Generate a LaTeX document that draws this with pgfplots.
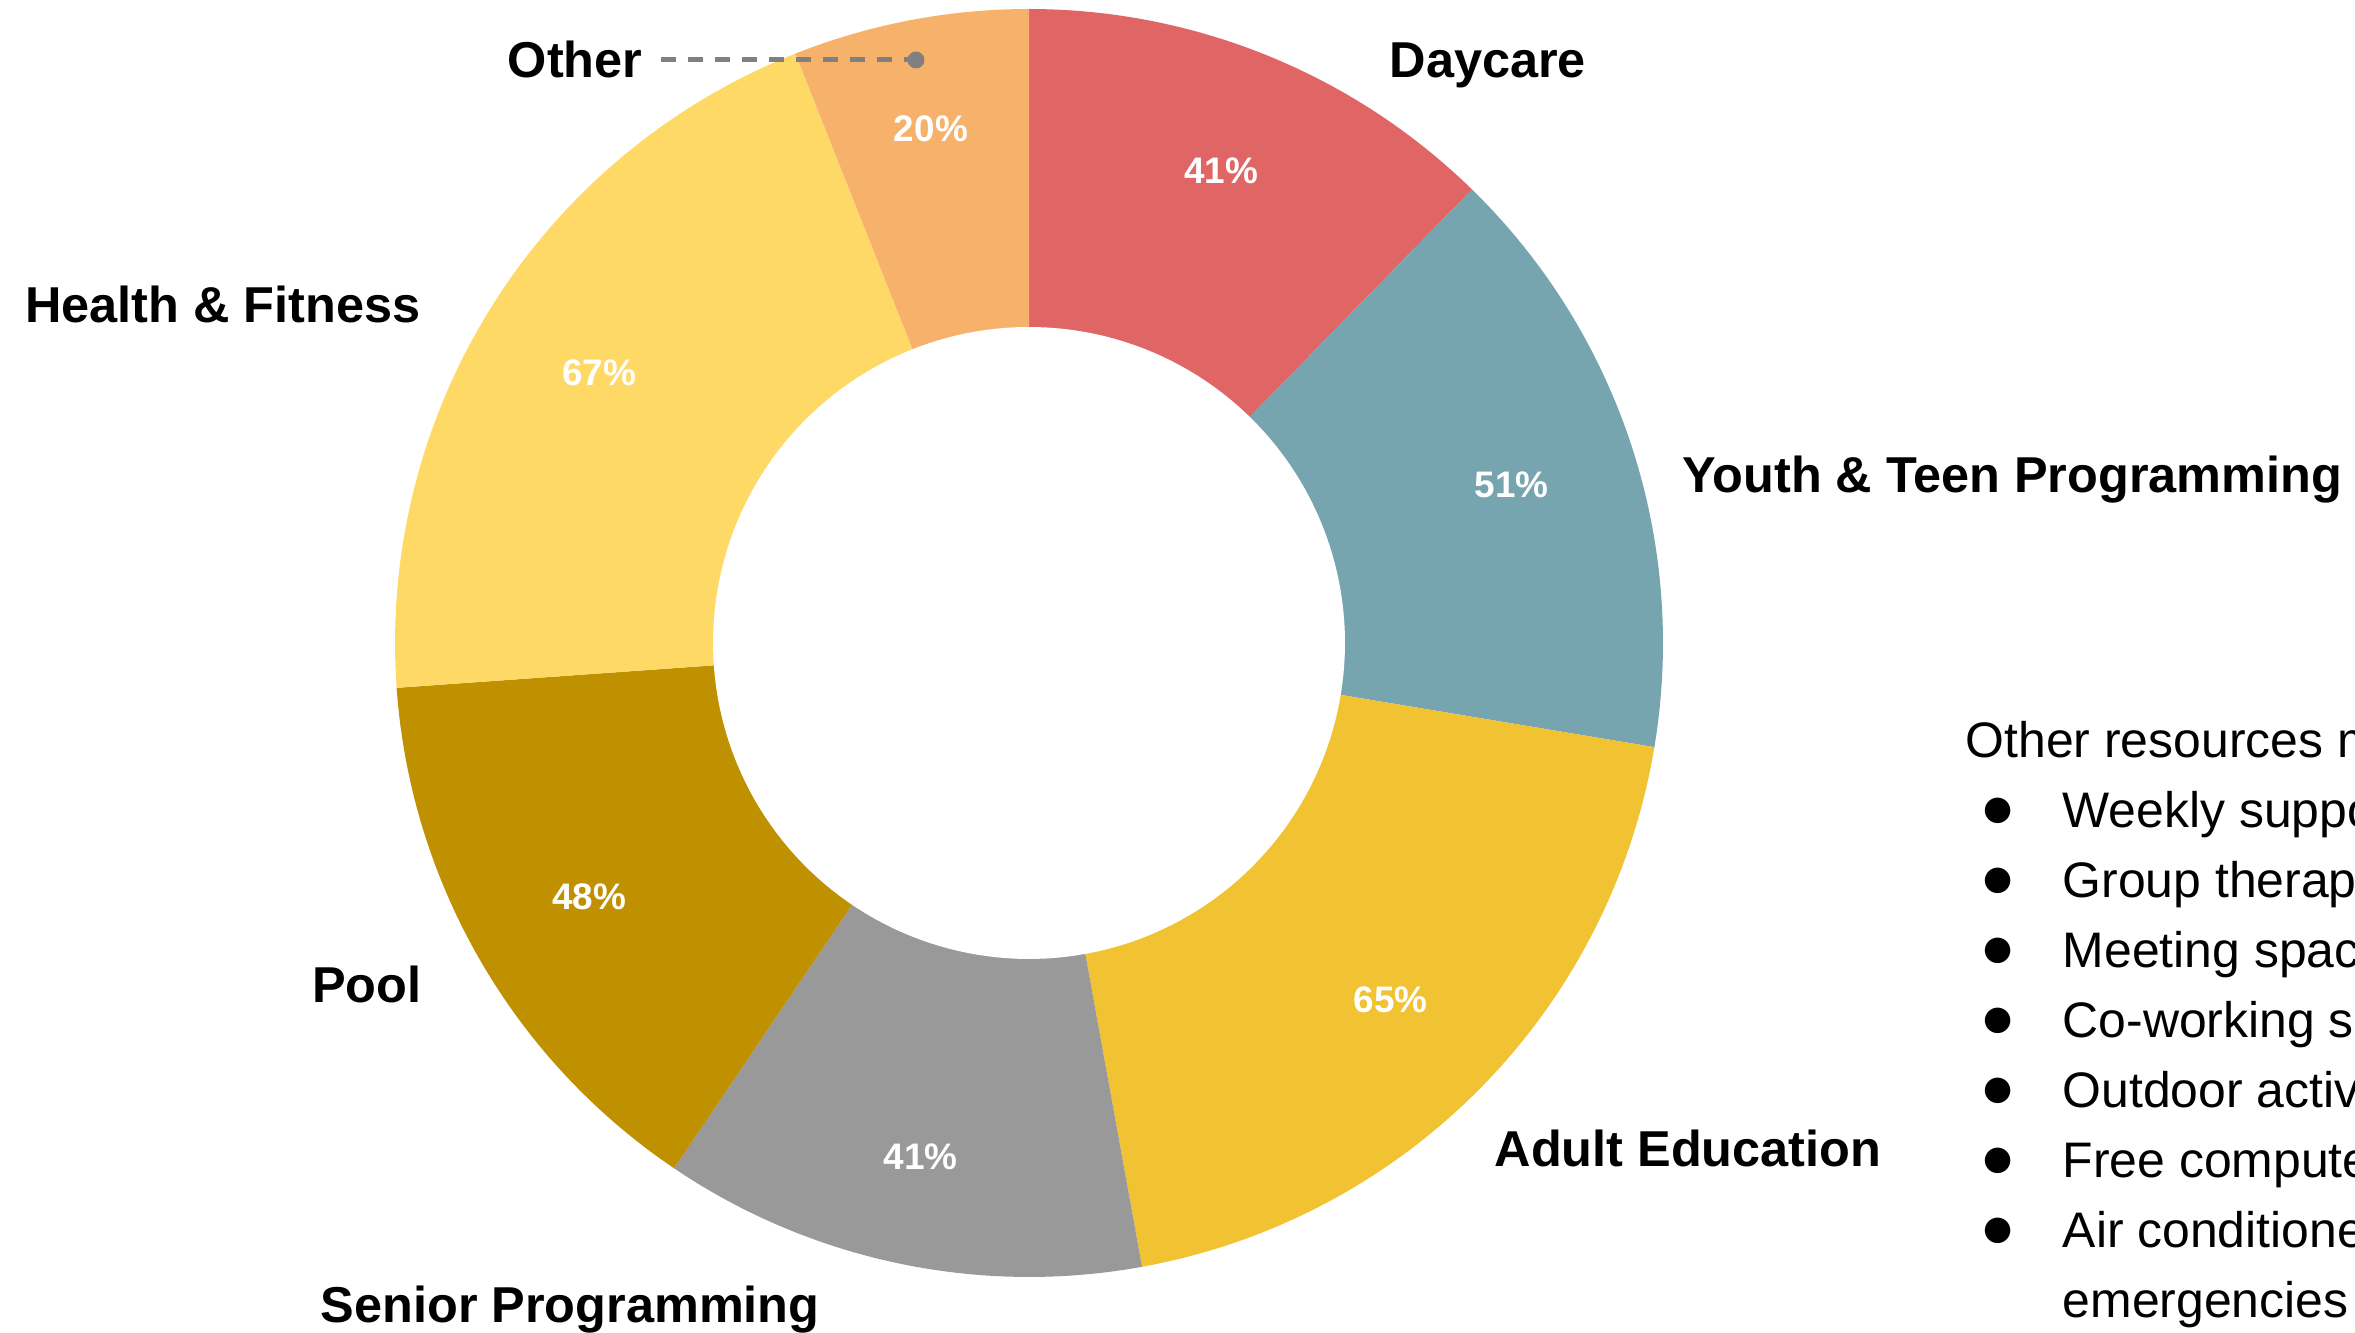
\documentclass[border=0pt]{standalone}
\usepackage{pgfplots}
\pgfplotsset{compat=1.18}
\usepackage{pgfplotstable}
\usepackage{fontspec}
\setmainfont{Liberation Sans}
\newfontfamily\lab{Liberation Sans}
\newfontfamily\sym{DejaVu Sans}
\newcommand\pctfont{\lab\bfseries\fontsize{10.5}{12}\selectfont}
\newcommand\catfont{\lab\bfseries\fontsize{14.35}{17}\selectfont}
\newcommand\txtfont{\lab\fontsize{14.2}{17}\selectfont}

\definecolor{cDay}{HTML}{E06666}
\definecolor{cYouth}{HTML}{76A5AF}
\definecolor{cAdult}{HTML}{F1C232}
\definecolor{cSenior}{HTML}{999999}
\definecolor{cPool}{HTML}{BF9000}
\definecolor{cHealth}{HTML}{FFD966}
\definecolor{cOther}{HTML}{F6B26B}
\definecolor{cLine}{HTML}{808080}

% value, slice colour, radius of the value label
\pgfplotstableread{
name value color lr
Daycare 41 cDay 510
Youth 51 cYouth 508
Adult 65 cAdult 508
Senior 41 cSenior 525
Pool 48 cPool 508
Health 67 cHealth 508
Other 20 cOther 523
}\datatable

\begin{document}
\begin{tikzpicture}[x=0.1mm,y=0.1mm]
\useasboundingbox (0,0) rectangle (2355,1333);
\clip (0,0) rectangle (2355,1333);
\pgfplotstablegetrowsof{\datatable}
\pgfmathtruncatemacro\nrows{\pgfplotsretval-1}
\def\total{0}
\pgfplotsforeachungrouped \i in {0,...,\nrows}{%
  \pgfplotstablegetelem{\i}{value}\of\datatable
  \pgfmathsetmacro\total{\total+\pgfplotsretval}%
}
\begin{axis}[x=0.1mm,y=0.1mm,xmin=0,xmax=2355,ymin=0,ymax=1333,
  hide axis, clip=false, anchor=origin, at={(0,0)}]
\def\cum{0}
\pgfplotsforeachungrouped \i in {0,...,\nrows}{%
  \pgfplotstablegetelem{\i}{value}\of\datatable \edef\v{\pgfplotsretval}%
  \pgfplotstablegetelem{\i}{color}\of\datatable \edef\c{\pgfplotsretval}%
  \pgfmathsetmacro\aA{90-360*(\cum/\total)}%
  \pgfmathsetmacro\cum{\cum+\v}%
  \pgfmathsetmacro\aB{90-360*(\cum/\total)}%
  \edef\temp{\noexpand\addplot[fill=\c,draw=none,domain=\aB:\aA,samples=90,variable=\noexpand\t]
    ({1029+634*cos(\noexpand\t)},{690+634*sin(\noexpand\t)}) -- (axis cs:1029,690) -- cycle;}%
  \temp
}
\addplot[fill=white,draw=none,domain=0:360,samples=200] ({1029+316*cos(x)},{690+316*sin(x)}) -- cycle;
\def\cum{0}
\pgfplotsforeachungrouped \i in {0,...,\nrows}{%
  \pgfplotstablegetelem{\i}{value}\of\datatable \edef\v{\pgfplotsretval}%
  \pgfplotstablegetelem{\i}{lr}\of\datatable \edef\r{\pgfplotsretval}%
  \pgfmathsetmacro\aA{90-360*(\cum/\total)}%
  \pgfmathsetmacro\cum{\cum+\v}%
  \pgfmathsetmacro\aB{90-360*(\cum/\total)}%
  \pgfmathsetmacro\px{1029+\r*cos((\aA+\aB)/2)}%
  \pgfmathsetmacro\py{690+\r*sin((\aA+\aB)/2)}%
  \edef\temp{\noexpand\node[text=white,inner sep=0pt,font=\noexpand\pctfont] at (axis cs:\px,\py) {\v\noexpand\%};}%
  \temp
}
\end{axis}
% outer category labels
\begin{scope}[every node/.style={inner sep=0pt,font=\catfont}]
\node[anchor=base west] at (1389,1255) {Daycare};
\node[anchor=base east] at (643,1255) {Other};
\node[anchor=base east] at (421,1010) {Health \& Fitness};
\node[anchor=base west] at (1682,840) {Youth \& Teen Programming};
\node[anchor=base east] at (422,330) {Pool};
\node[anchor=base west] at (1494,166) {Adult Education};
\node[anchor=base west] at (320,10) {Senior Programming};
\end{scope}
% leader line for Other
\draw[cLine,line width=0.5mm,dash pattern=on 1.5mm off 1.2mm] (661,1273) -- (916,1273);
\fill[cLine] (916,1273) circle (8.5);
% side text
\begin{scope}[every node/.style={inner sep=0pt,font=\txtfont}]
\node[anchor=base west] at (1965,575) {Other resources mentioned:};
\foreach \t [count=\k from 1] in {Weekly support groups,Group therapy,Meeting space,Co-working space,Outdoor activities,Free computer access,Air conditioned space during heat}{
  \node[anchor=center,font=\sym\fontsize{9.5}{11}\selectfont] at (1998,592-70*\k) {●};
  \node[anchor=base west] at (2062,575-70*\k) {\t};
}
\node[anchor=base west] at (2062,15) {emergencies};
\end{scope}
\end{tikzpicture}
\end{document}
